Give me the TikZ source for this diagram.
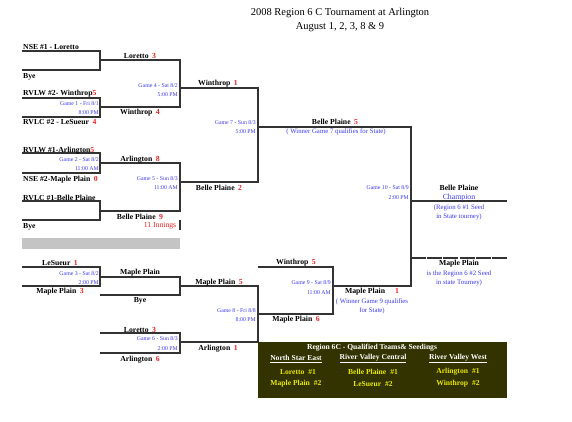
\documentclass[tikz,border=0pt]{standalone}
\usepackage{fontspec}
\setmainfont{Liberation Serif}
\definecolor{gblue}{HTML}{3A3AF0}
\definecolor{sred}{HTML}{F02020}
\definecolor{boxfill}{HTML}{333300}
\definecolor{ylw}{HTML}{E8E800}
\definecolor{lgray}{HTML}{C4C4C4}
\definecolor{lcol}{HTML}{333333}
\newcommand\score[1]{\hspace{3.5pt}\textcolor{sred}{#1}}
\begin{document}
\begin{tikzpicture}[x=1pt,y=-1pt,
  br/.style={draw=lcol,line width=1.1pt,line join=miter},
  team/.style={font=\fontsize{7.7}{8}\selectfont\bfseries,inner sep=0,yshift=-0.8pt},
  game/.style={font=\fontsize{5.8}{6}\selectfont,text=gblue,inner sep=0,anchor=mid east,yshift=-0.5pt},
  note/.style={font=\fontsize{6.8}{7}\selectfont,text=gblue,inner sep=0,yshift=-0.6pt},
  ttl/.style={font=\fontsize{10.5}{12}\selectfont,inner sep=0},
  bx/.style={font=\fontsize{7.6}{8}\selectfont\bfseries,inner sep=0,yshift=-0.8pt},
  bxh/.style={bx,text=white},
  bxy/.style={bx,text=ylw}]
\useasboundingbox (0,0) rectangle (572,421);
\fill[white] (0,0) rectangle (572,421);
% title
\node[ttl] (title1) at (340,13) {2008 Region 6 C Tournament at Arlington};
\node[ttl] (title2) at (340,27) {August 1, 2, 3, 8 \& 9};
% bracket lines
\draw[br] (22,51) -- (100,51) -- (100,70) -- (22,70);
\draw[br] (100,60) -- (180,60) -- (180,107) -- (100,107);
\draw[br] (22,98) -- (100,98) -- (100,117) -- (22,117);
\draw[br] (180,88) -- (258,88) -- (258,182) -- (180,182);
\draw[br] (22,153) -- (100,153) -- (100,173) -- (22,173);
\draw[br] (100,163) -- (180,163) -- (180,211) -- (100,211);
\draw[br] (22,201) -- (100,201) -- (100,220) -- (22,220);
\draw[br] (180,220) -- (180,230);
\draw[br] (258,127) -- (411,127) -- (411,286) -- (333,286);
\draw[br] (411,201) -- (507,201);
\draw[br,dash pattern=on 15pt off 1.2pt] (411,258) -- (507,258);
\fill[lgray] (22,238) rectangle (180,249);
\draw[br] (22,267) -- (100,267) -- (100,286) -- (22,286);
\draw[br] (100,277) -- (180,277) -- (180,295) -- (100,295);
\draw[br] (180,286) -- (258,286) -- (258,342) -- (180,342);
\draw[br] (100,333) -- (180,333) -- (180,353) -- (100,353);
\draw[br] (258,267) -- (333,267) -- (333,314) -- (258,314);
% round 1 labels
\node[team,anchor=mid west] (r1a) at (23,46) {NSE \#1 - Loretto};
\node[team,anchor=mid west] (r1b) at (23,75) {Bye};
\node[team,anchor=mid west] (r1c) at (23,92) {RVLW \#2- Winthrop\textcolor{sred}{5}};
\node[team,anchor=mid west] (r1d) at (23,121) {RVLC \#2 - LeSueur\score{4}};
\node[team,anchor=mid west] (r1e) at (23,149) {RVLW \#1-Arlington\textcolor{sred}{5}};
\node[team,anchor=mid west] (r1f) at (23,178) {NSE \#2-Maple Plain\score{0}};
\node[team,anchor=mid west] (r1g) at (23,197) {RVLC \#1-Belle Plaine};
\node[team,anchor=mid west] (r1h) at (23,225) {Bye};
\node[team] (r1i) at (60,262) {LeSueur\score{1}};
\node[team] (r1j) at (60,291) {Maple Plain\score{3}};
% game labels
\node[game] (g1a) at (99,103) {Game 1 - Fri 8/1};
\node[game] (g1b) at (99,112) {8:00 PM};
\node[game] (g2a) at (99,159) {Game 2 - Sat 8/2};
\node[game] (g2b) at (99,168) {11:00 AM};
\node[game] (g3a) at (99,273) {Game 3 - Sat 8/2};
\node[game] (g3b) at (99,282) {2:00 PM};
\node[game] (g4a) at (178,85) {Game 4 - Sat 8/2};
\node[game] (g4b) at (178,94) {5:00 PM};
\node[game] (g5a) at (178,178) {Game 5 - Sun 8/3};
\node[game] (g5b) at (178,187) {11:00 AM};
\node[game] (g6a) at (178,338) {Game 6 - Sun 8/3};
\node[game] (g6b) at (178,348) {2:00 PM};
\node[game] (g7a) at (256,122) {Game 7 - Sun 8/3};
\node[game] (g7b) at (256,131) {5:00 PM};
\node[game] (g8a) at (256,310) {Game 8 - Fri 8/8};
\node[game] (g8b) at (256,319) {8:00 PM};
\node[game] (g9a) at (331,282) {Game 9 - Sat 8/9};
\node[game] (g9b) at (331,292) {11:00 AM};
\node[game] (g10a) at (409,187) {Game 10 - Sat 8/9};
\node[game] (g10b) at (409,197) {2:00 PM};
% round 2 labels
\node[team] (r2a) at (140,55) {Loretto\score{3}};
\node[team] (r2b) at (140,112) {Winthrop\score{4}};
\node[team] (r2c) at (140,159) {Arlington\score{8}};
\node[team] (r2d) at (140,216) {Belle Plaine\score{9}};
\node[team,font=\fontsize{7.7}{8}\selectfont,text=sred] (r2e) at (160,225) {11 Innings};
\node[team] (r2f) at (140,272) {Maple Plain};
\node[team] (r2g) at (140,300) {Bye};
\node[team] (r2h) at (140,329) {Loretto\score{3}};
\node[team] (r2i) at (140,359) {Arlington\score{6}};
% round 3 labels
\node[team] (r3a) at (218,83) {Winthrop\score{1}};
\node[team] (r3b) at (219,187) {Belle Plaine\score{2}};
\node[team] (r3c) at (219,282) {Maple Plain\score{5}};
\node[team] (r3d) at (218,348) {Arlington\score{1}};
% round 4
\node[team] (r4a) at (335,121) {Belle Plaine\score{5}};
\node[note] (r4b) at (336,131) {( Winner Game 7 qualifies for State)};
\node[team] (r4c) at (296,262) {Winthrop\score{5}};
\node[team] (r4d) at (296,319) {Maple Plain\score{6}};
\node[team] (r5a) at (372,291) {Maple Plain\hspace{10pt}\textcolor{sred}{1}};
\node[note] (r5b) at (372,301) {( Winner Game 9 qualifies};
\node[note] (r5c) at (372,310) {for State)};
% champion
\node[team] (c1) at (459,187) {Belle Plaine};
\node[note,font=\fontsize{7.8}{8}\selectfont] (c2) at (459,197) {Champion};
\node[note] (c3) at (459,207) {(Region 6 \#1 Seed};
\node[note] (c4) at (459,216) {in State tourney)};
\node[team] (d1) at (459,262.5) {Maple Plain};
\node[note] (d2) at (459,273) {is the Region 6 \#2 Seed};
\node[note] (d3) at (459,282) {in state Tourney)};
% seedings box
\fill[boxfill] (258,342) rectangle (507,398);
\node[bxh] (b0) at (372,347) {Region 6C - Qualified Teams\& Seedings};
\node[bxh] (bh1) at (296,358) {\underline{North Star East}};
\node[bxh] (bh2) at (373,358) {\underline{River Valley Central}};
\node[bxh] (bh3) at (458,358) {\underline{River Valley West}};
\node[bxy] (b11) at (298,371) {Loretto\hspace{4pt}\#1};
\node[bxy] (b12) at (373,371) {Belle Plaine\hspace{4pt}\#1};
\node[bxy] (b13) at (458,371) {Arlington\hspace{4pt}\#1};
\node[bxy] (b21) at (296,383) {Maple Plain\hspace{4pt}\#2};
\node[bxy] (b22) at (373,383) {LeSueur\hspace{4pt}\#2};
\node[bxy] (b23) at (458,383) {Winthrop\hspace{4pt}\#2};
\end{tikzpicture}
\end{document}
